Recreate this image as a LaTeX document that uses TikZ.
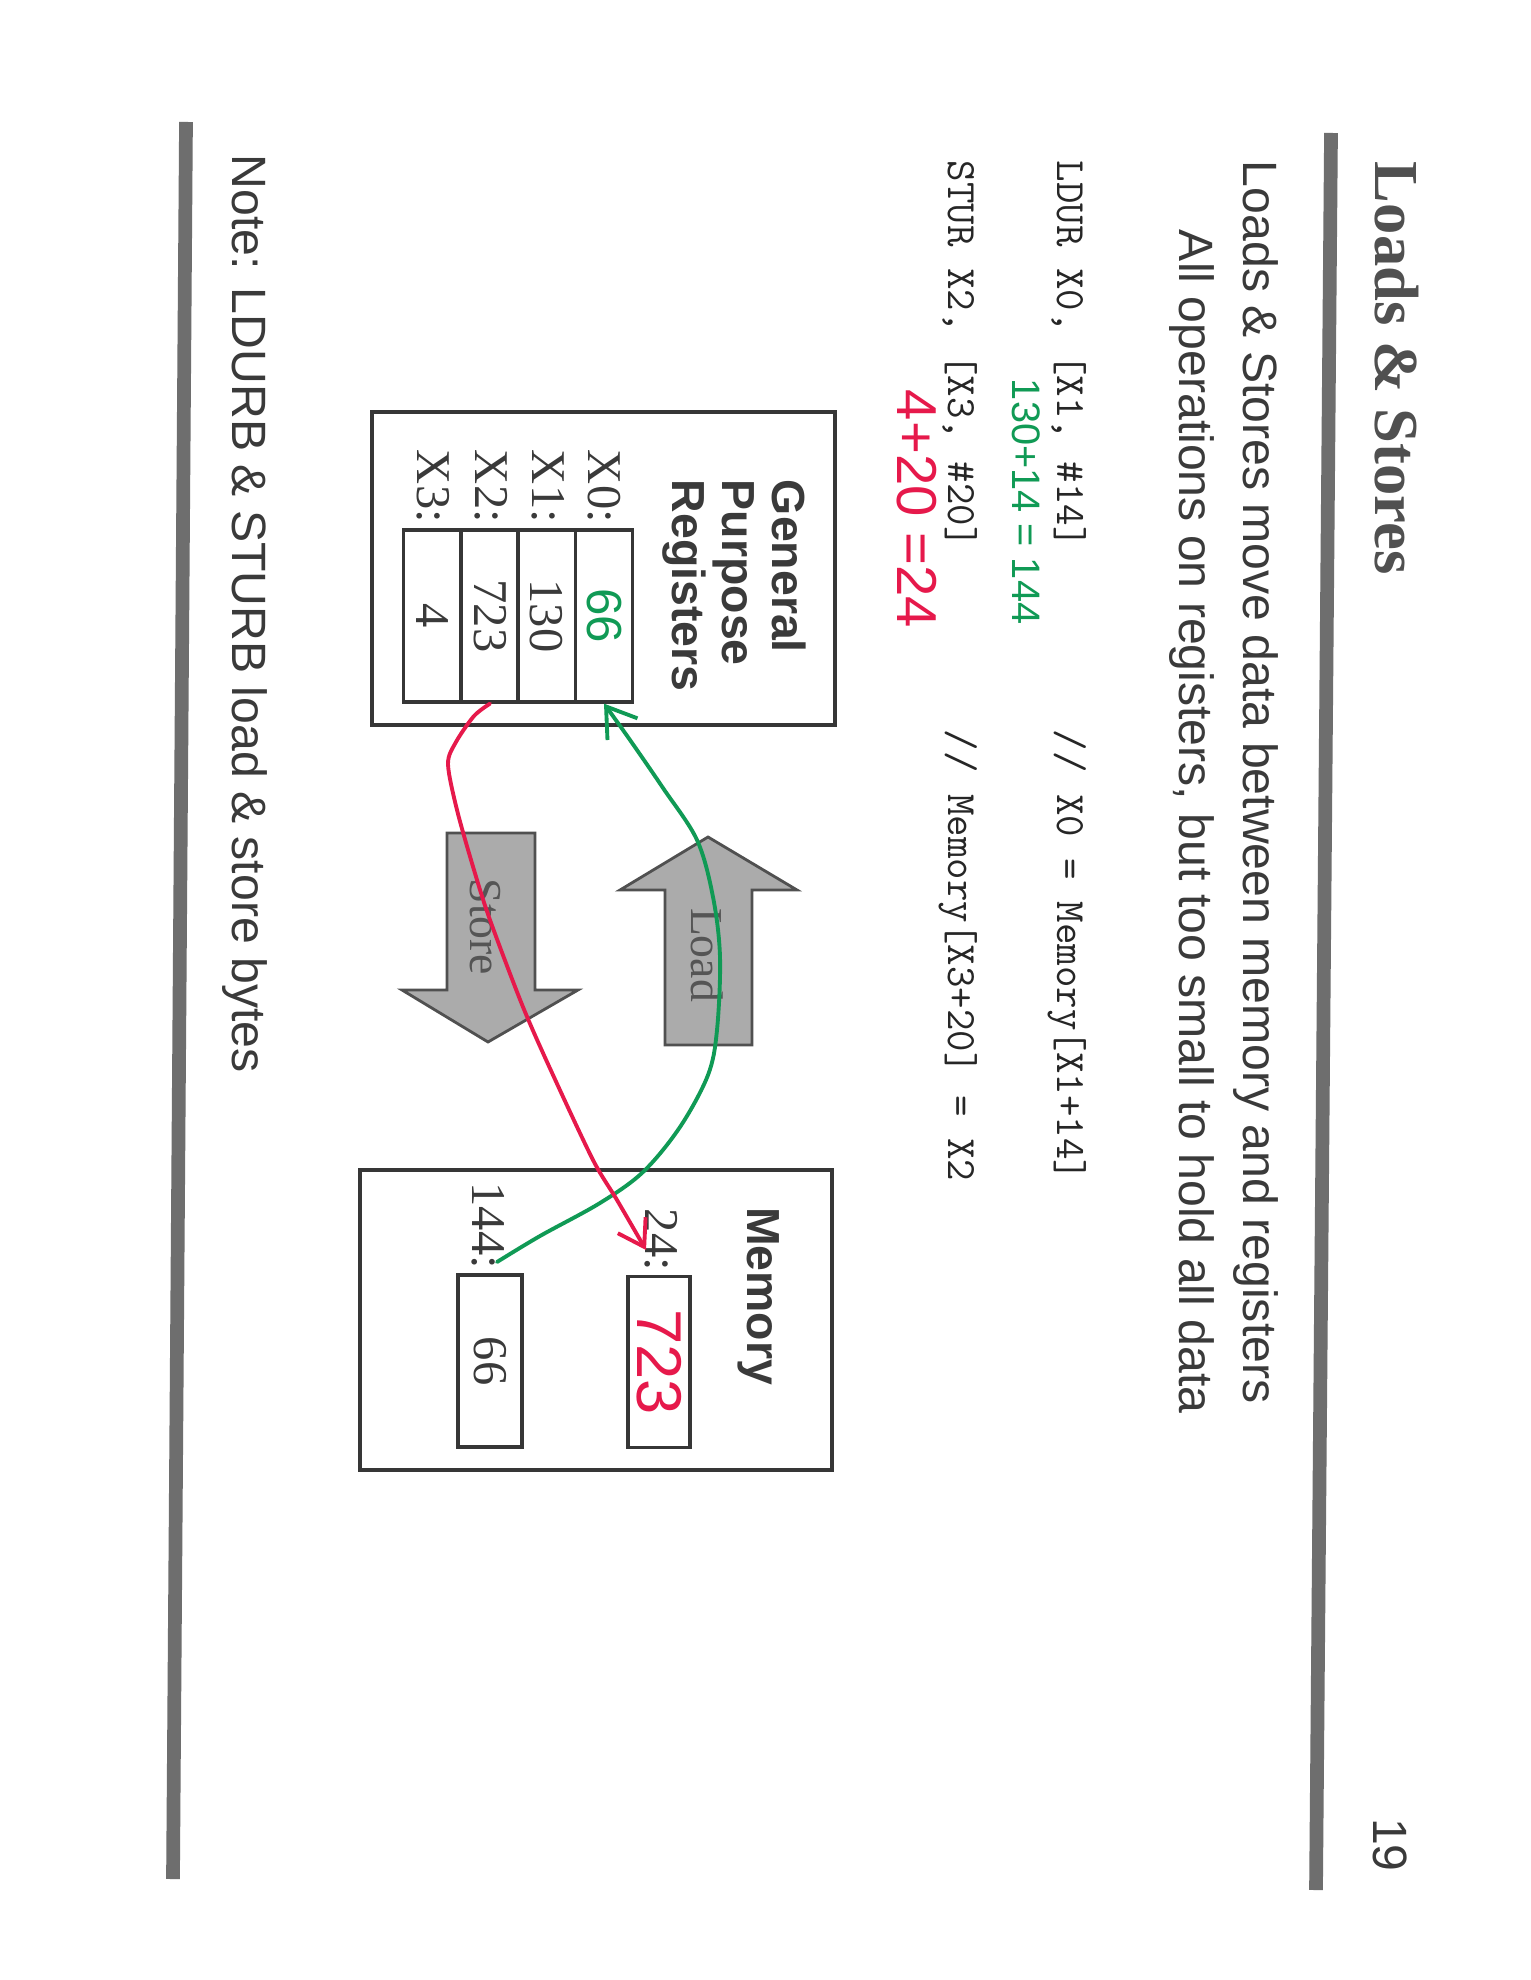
\documentclass[tikz,border=0pt]{standalone}
\usepackage{fontspec}
\setmainfont{Liberation Serif}
\setsansfont{Liberation Sans}
\usetikzlibrary{arrows.meta}
\definecolor{ink}{HTML}{3A3A3A}
\definecolor{titleink}{HTML}{505050}
\definecolor{rulegray}{HTML}{6E6E6E}
\definecolor{boxline}{HTML}{363636}
\definecolor{arrowfill}{HTML}{ABABAB}
\definecolor{arrowline}{HTML}{505050}
\definecolor{arrowtext}{HTML}{555555}
\definecolor{pengreen}{HTML}{109A55}
\definecolor{penred}{HTML}{E6194B}
\begin{document}
\begin{tikzpicture}[x=0.01cm, y=-0.01cm,
  rtext/.style={rotate=-90, inner sep=0pt, outer sep=0pt, text=ink},
  lefttext/.style={rtext, anchor=base west},
  hdr/.style={lefttext, font=\fontsize{13.7}{16}\selectfont\sffamily},
  codetext/.style={lefttext, text=black!85, font=\fontsize{11.86}{14}\selectfont\ttfamily},
  regname/.style={lefttext, font=\fontsize{13.8}{16}\selectfont\rmfamily},
  cell/.style={rotate=-90, draw=boxline, line width=0.9pt, inner sep=0pt, font=\fontsize{13.8}{16}\selectfont\rmfamily, text=ink},
  bigbox/.style={rotate=-90, draw=boxline, line width=1.1pt, inner sep=0pt},
  bigarrow/.style={fill=arrowfill, draw=arrowline, line width=0.8pt, line join=miter},
  arrowlabel/.style={rtext, text=arrowtext, font=\fontsize{13}{15}\selectfont\rmfamily},
  hand/.style={lefttext, font=\fontsize{11.3}{13}\selectfont\sffamily},
  pen/.style={line width=1.1pt, line cap=round, line join=round},
  hrule/.style={draw=rulegray, line width=3.9pt}
]
\fill[white] (0,0) rectangle (1530,1980);
\useasboundingbox (0,0) rectangle (1530,1980);

% rules
\draw[hrule] (1331,133) -- (1316,1890);
\draw[hrule] (186,122) -- (173,1879);

% title and header
\node[lefttext, text=titleink, font=\fontsize{17.8}{20}\selectfont\rmfamily\bfseries] (title) at (1375,162) {Loads \& Stores};
\node[hdr] (hdr1) at (1243,161) {Loads \& Stores move data between memory and registers};
\node[hdr] (hdr2) at (1179,230) {All operations on registers, but too small to hold all data};

% code
\node[codetext] (code1) at (1057,161) {LDUR X0, [X1, \#14]};
\node[codetext] (comm1) at (1057,730) {// X0 = Memory[X1+14]};
\node[codetext] (code2) at (948,161) {STUR X2, [X3, \#20]};
\node[codetext] (comm2) at (948,730) {// Memory[X3+20] = X2};
\node[hand, text=pengreen] (gcalc) at (1012,379) {130+14 = 144};
\node[hand, text=penred, font=\fontsize{16}{18}\selectfont\sffamily] (rcalc) at (897,390) {4+20 =24};

% registers
\node[bigbox, minimum width=3.13cm, minimum height=4.63cm] (regs) at (603.5,568.5) {};
\node[rtext, anchor=north west, align=left, font=\fontsize{13.2}{14.2}\selectfont\sffamily\bfseries] (gprtitle) at (806,480) {General\\Purpose\\Registers};
\node[regname] (lx0) at (588,450) {X0:};
\node[regname] (lx1) at (532,450) {X1:};
\node[regname] (lx2) at (475,450) {X2:};
\node[regname] (lx3) at (417,450) {X3:};
\node[cell, minimum width=1.72cm, minimum height=0.575cm, text=pengreen, font=\fontsize{14}{16}\selectfont\sffamily] (r0) at (604,616) {66};
\node[cell, minimum width=1.72cm, minimum height=0.575cm] (r1) at (546.5,616) {130};
\node[cell, minimum width=1.72cm, minimum height=0.575cm] (r2) at (490,616) {723};
\node[cell, minimum width=1.72cm, minimum height=0.575cm] (r3) at (432,616) {4};

% memory
\node[bigbox, minimum width=3.0cm, minimum height=4.72cm] (mem) at (596,1320) {};
\node[lefttext, font=\fontsize{13.2}{15}\selectfont\sffamily\bfseries] (memtitle) at (747,1207) {Memory};
\node[regname, anchor=base east] (l24) at (645,1271) {24:};
\node[regname, anchor=base east] (l144) at (472,1269) {144:};
\node[cell, minimum width=1.71cm, minimum height=0.62cm, text=penred, font=\fontsize{18}{20}\selectfont\sffamily] (m24) at (659,1362) {723};
\node[cell, minimum width=1.72cm, minimum height=0.64cm] (m144) at (490,1361) {66};

% block arrows
\draw[bigarrow] (447,833) -- (535,833) -- (535,990) -- (578,990) -- (488,1042) -- (402,990) -- (447,990) -- cycle;
\node[arrowlabel] (storelbl) at (485,927) {Store};
\draw[bigarrow] (665,1045) -- (752,1045) -- (752,890) -- (797,890) -- (708,837) -- (620,890) -- (665,890) -- cycle;
\node[arrowlabel] (loadlbl) at (707,955) {Load};

% handwritten connectors
\coordinate (gstart) at (497,1262);
\coordinate (rtip) at (646,1250);
\draw[pen, pengreen, -{Straight Barb[length=2.8mm, width=3.7mm]}] plot[smooth, tension=0.55] coordinates {(gstart) (540,1236) (600,1203) (643,1172) (680,1127) (708,1075) (717,1030) (720,957) (713,897) (697,840) (663,788) (630,740) (r0.east)};
\draw[pen, penred, -{Straight Barb[length=2.5mm, width=3.2mm]}] plot[smooth, tension=0.5] coordinates {(r2.east) (474,716) (456,742) (448,764) (457,810) (474,870) (490,920) (523,1007) (553,1075) (593,1160) (617,1200) (rtip)};

% note and page number
\node[hdr] (note) at (232,155) {Note: LDURB \& STURB load \& store bytes};
\node[hdr] (pnum) at (1373,1818) {19};
\end{tikzpicture}
\end{document}
